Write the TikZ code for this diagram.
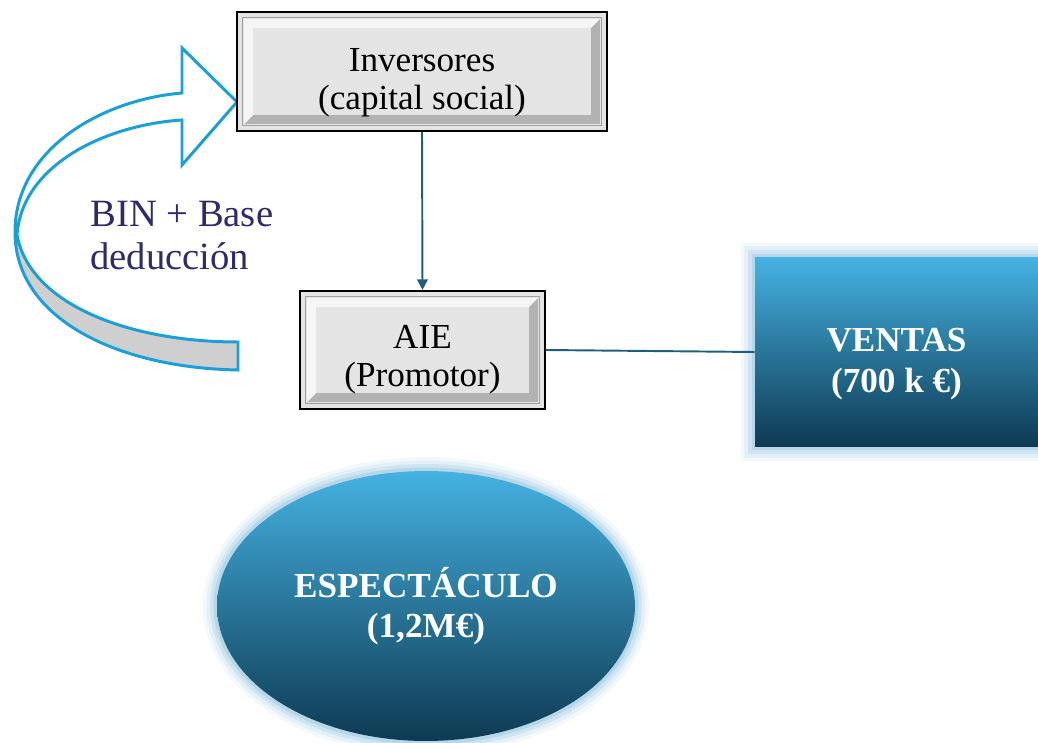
\documentclass[tikz,border=0pt]{standalone}
\usepackage{fontspec}
\setmainfont{Liberation Serif}
\usetikzlibrary{shapes.geometric,arrows.meta,calc}
\definecolor{azulflecha}{HTML}{1A9FD6}
\definecolor{azullinea}{HTML}{1F5D7E}
\definecolor{azulclaro}{HTML}{45B2E2}
\definecolor{azuloscuro}{HTML}{0E3A52}
\definecolor{brillo}{HTML}{9CC9E2}
\definecolor{grisbisel}{HTML}{E4E4E4}
\definecolor{grisdorso}{HTML}{CFCFCF}
\definecolor{textoazul}{HTML}{2E2A6B}
% puntal para bajar un poco el texto de las cajas
\newcommand{\bajada}[1]{\rule{0pt}{#1}}
\tikzset{
  caja/.style={rectangle, draw=black, line width=1.2pt, fill=grisbisel, align=center,
    font=\fontsize{20}{22}\selectfont, path picture={
      \coordinate (pa) at (path picture bounding box.south west);
      \coordinate (pb) at (path picture bounding box.north east);
      \draw[gray!75, line width=.6pt] ($(pa)+(3pt,3pt)$) rectangle ($(pb)+(-3pt,-3pt)$);
      \fill[gray!60] ($(pa)+(4pt,4pt)$) -- ($(pa -| pb)+(-4pt,4pt)$) -- ($(pb)+(-4pt,-4pt)$)
        -- ($(pb)+(-9pt,-9pt)$) -- ($(pa -| pb)+(-9pt,9pt)$) -- ($(pa)+(9pt,9pt)$) -- cycle;
      \fill[gray!8] ($(pa)+(4pt,4pt)$) -- ($(pa |- pb)+(4pt,-4pt)$) -- ($(pb)+(-4pt,-4pt)$)
        -- ($(pb)+(-9pt,-9pt)$) -- ($(pa |- pb)+(9pt,-9pt)$) -- ($(pa)+(9pt,9pt)$) -- cycle;
    }},
  bloque/.style={align=center, text=white, font=\bfseries\fontsize{20}{23}\selectfont,
    top color=azulclaro, bottom color=azuloscuro,
    preaction={draw=brillo, line width=16pt, opacity=.12},
    preaction={draw=brillo, line width=12pt, opacity=.18},
    preaction={draw=brillo, line width=8pt, opacity=.3},
    preaction={draw=brillo, line width=4pt, opacity=.5}},
  conector/.style={draw=azullinea, line width=1.1pt},
}
\begin{document}
\begin{tikzpicture}[x=0.02cm,y=-0.02cm]
  \useasboundingbox (0,0) rectangle (1038,743);
  % Flecha curva
  \fill[white] (182,93) -- (182,48) -- (237,102) -- (182,165) -- (182,120)
    .. controls (105,125) and (22,165) .. (17,235)
    .. controls (15,150) and (100,100) .. (182,93) -- cycle;
  \fill[grisdorso] (15,232) .. controls (15,320) and (120,368) .. (238,370)
    -- (238,342) .. controls (130,342) and (30,305) .. (17,235) -- cycle;
  \draw[azulflecha, line width=1.7pt, line join=miter]
    (182,93) -- (182,48) -- (237,102) -- (182,165) -- (182,120)
    .. controls (105,125) and (22,165) .. (17,235)
    .. controls (30,305) and (130,342) .. (238,342) -- (238,370)
    .. controls (120,368) and (15,320) .. (15,232)
    .. controls (15,150) and (100,100) .. (182,93) -- cycle;
  \node[anchor=west, align=left, inner sep=0pt, text=textoazul,
    font=\fontsize{22}{24.5}\selectfont] (bin) at (90,236) {BIN + Base\\deducción};
  % Cajas
  \node[caja, minimum width=7.4cm, minimum height=2.38cm] (inversores) at (422,71.5)
    {\bajada{26pt}Inversores\\(capital social)};
  \node[caja, minimum width=4.9cm, minimum height=2.36cm] (aie) at (422.5,350)
    {\bajada{24pt}AIE\\(Promotor)};
  \node[bloque, rectangle, minimum width=5.66cm, minimum height=3.8cm] (ventas) at (896.5,352)
    {\bajada{27pt}VENTAS\\(700 k €)};
  \node[bloque, ellipse, minimum width=8.36cm, minimum height=5.4cm] (espectaculo) at (426,606)
    {ESPECTÁCULO\\(1,2M€)};
  % Conectores
  \draw[conector, -{Triangle[length=6pt,width=6pt]}] (inversores.south) -- (aie.north);
  \draw[conector] (aie.east) -- (ventas.west);
\end{tikzpicture}
\end{document}
